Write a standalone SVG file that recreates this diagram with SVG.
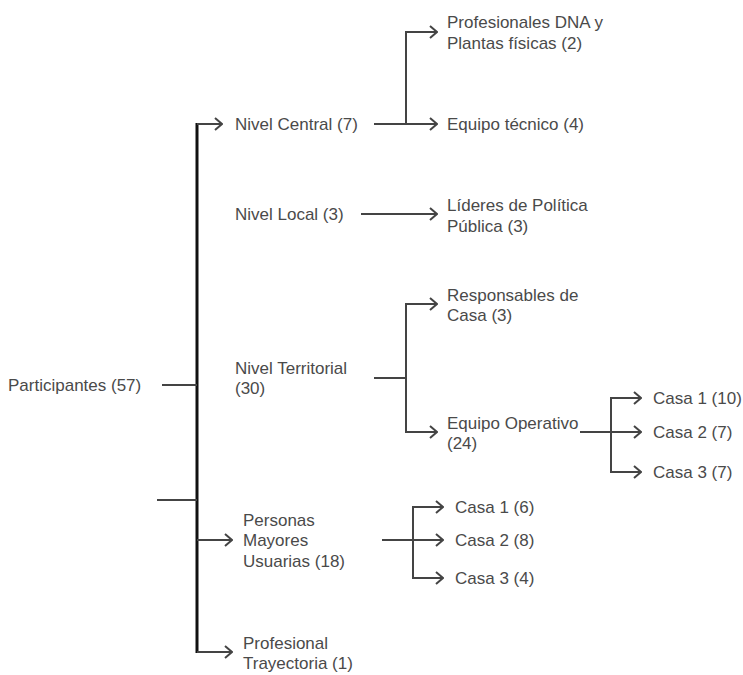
<svg xmlns="http://www.w3.org/2000/svg" width="743" height="675" viewBox="0 0 743 675">
<style>
text{font-family:"Liberation Sans",Arial,sans-serif;font-size:17px;fill:#4a4a4a}
.c{stroke:#444;stroke-width:2;fill:none}
.m{stroke:#111;stroke-width:3;fill:none}
</style>
<defs>
<marker id="ah" markerUnits="userSpaceOnUse" viewBox="0 0 10 14" refX="9" refY="7" markerWidth="10" markerHeight="14" orient="auto">
<path d="M2,1 L9,7 L2,13" stroke="#444" stroke-width="2" fill="none"/>
</marker>
</defs>
<rect width="743" height="675" fill="#fff"/>
<g id="connectors">
<path class="m" d="M197,123 V653"/>
<path class="c" d="M162,385 H197"/>
<path class="c" d="M157,500 H197"/>
<path class="c" d="M197,124 H222" marker-end="url(#ah)"/>
<path class="c" d="M197,540 H232" marker-end="url(#ah)"/>
<path class="c" d="M197,652 H232" marker-end="url(#ah)"/>
<path class="c" d="M374,124 H437" marker-end="url(#ah)"/>
<path class="c" d="M406,124 V32 H437" marker-end="url(#ah)"/>
<path class="c" d="M361,214 H437" marker-end="url(#ah)"/>
<path class="c" d="M374,378 H406"/>
<path class="c" d="M406,378 V304 H437" marker-end="url(#ah)"/>
<path class="c" d="M406,378 V432 H437" marker-end="url(#ah)"/>
<path class="c" d="M580,432 H641" marker-end="url(#ah)"/>
<path class="c" d="M611,432 V398 H641" marker-end="url(#ah)"/>
<path class="c" d="M611,432 V472 H641" marker-end="url(#ah)"/>
<path class="c" d="M382,540 H443" marker-end="url(#ah)"/>
<path class="c" d="M413,540 V507 H443" marker-end="url(#ah)"/>
<path class="c" d="M413,540 V578 H443" marker-end="url(#ah)"/>
</g>
<g id="participantes"><text x="8" y="391">Participantes (57)</text></g>
<g id="nivel-central"><text x="235" y="130">Nivel Central (7)</text></g>
<g id="profesionales-dna"><text x="447" y="28">Profesionales DNA y</text><text x="447" y="49">Plantas físicas (2)</text></g>
<g id="equipo-tecnico"><text x="447" y="130">Equipo técnico (4)</text></g>
<g id="nivel-local"><text x="235" y="220">Nivel Local (3)</text></g>
<g id="lideres"><text x="447" y="211">Líderes de Política</text><text x="447" y="232">Pública (3)</text></g>
<g id="nivel-territorial"><text x="235" y="374">Nivel Territorial</text><text x="235" y="394">(30)</text></g>
<g id="responsables"><text x="447" y="301">Responsables de</text><text x="447" y="321">Casa (3)</text></g>
<g id="equipo-operativo"><text x="447" y="429">Equipo Operativo</text><text x="447" y="449">(24)</text></g>
<g id="eo-casa1"><text x="653" y="404">Casa 1 (10)</text></g>
<g id="eo-casa2"><text x="653" y="438">Casa 2 (7)</text></g>
<g id="eo-casa3"><text x="653" y="478">Casa 3 (7)</text></g>
<g id="personas-mayores"><text x="243" y="526">Personas</text><text x="243" y="546">Mayores</text><text x="243" y="567">Usuarias (18)</text></g>
<g id="pm-casa1"><text x="455" y="513">Casa 1 (6)</text></g>
<g id="pm-casa2"><text x="455" y="546">Casa 2 (8)</text></g>
<g id="pm-casa3"><text x="455" y="584">Casa 3 (4)</text></g>
<g id="profesional-trayectoria"><text x="243" y="649">Profesional</text><text x="243" y="669">Trayectoria (1)</text></g>
</svg>
